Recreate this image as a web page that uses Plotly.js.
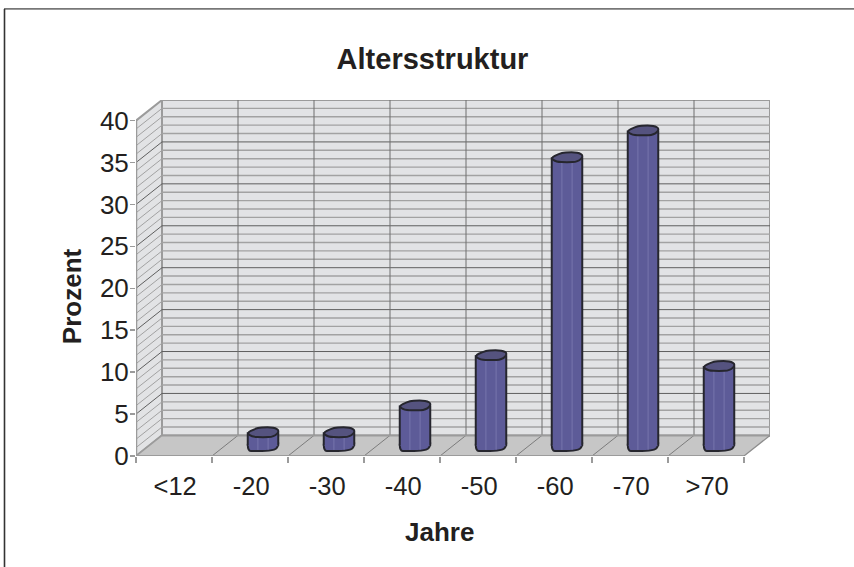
<!DOCTYPE html>
<html>
<head>
<meta charset="utf-8">
<script src="https://cdn.plot.ly/plotly-3.0.1.min.js"></script>
<style>html,body{margin:0;padding:0;background:#fff}#chart{width:854px;height:567px}</style>
</head>
<body>
<div id="chart"></div>
<script>
// Altersstruktur: share of each age band in percent
const categories = ['&lt;12', '-20', '-30', '-40', '-50', '-60', '-70', '>70'];
const percent = [0, 1.6, 1.6, 4.8, 10.8, 34.4, 37.6, 9.5];
const yTicks = [0, 5, 10, 15, 20, 25, 30, 35, 40];

// Pseudo-3D box: the back wall sits behind the front plane by this depth, in axis units
const unitX = 76, unitY = 8.375;              // pixels per category / per percent
const depthX = 26 / unitX, depthY = 20.6 / unitY;
const yMax = 40, nCat = categories.length;
const xLow = -0.5, xHigh = nCat - 0.5;
const barWidth = 30.5 / unitX;
const midX = depthX / 2, midY = depthY / 2;   // bars stand halfway into the box

const wallFill = '#e2e3e5', floorFill = '#c6c6c6';
const edge = '#9b9b9b', gridMinor = '#a2a2a2', gridMajor = '#5f5f5f';
const barFill = '#5d5b98', capFill = '#55537f', outline = '#26262e';

const line = (x0, y0, x1, y1, color, width, layer) => ({
  type: 'line', xref: 'x', yref: 'y', x0, y0, x1, y1, layer: layer || 'below',
  line: { color, width }
});
const poly = (pts, fill, lineColor, width, layer) => ({
  type: 'path', xref: 'x', yref: 'y', layer: layer || 'below', fillcolor: fill,
  line: { color: lineColor, width: width },
  path: 'M' + pts.map(p => p[0] + ',' + p[1]).join(' L') + ' Z'
});
// closed outline rounded off through the midpoints of its edges
const smooth = (pts, fill, lineColor, width, layer) => {
  const mid = (a, b) => [(a[0] + b[0]) / 2, (a[1] + b[1]) / 2];
  const n = pts.length;
  const start = mid(pts[n - 1], pts[0]);
  let d = 'M' + start[0] + ',' + start[1];
  pts.forEach((p, i) => {
    const m = mid(p, pts[(i + 1) % n]);
    d += ' Q' + p[0] + ',' + p[1] + ' ' + m[0] + ',' + m[1];
  });
  return { type: 'path', xref: 'x', yref: 'y', layer: layer || 'below', fillcolor: fill,
    line: { color: lineColor, width: width }, path: d + ' Z' };
};

const shapes = [];
// side wall, back wall, floor
shapes.push(poly([[xLow, 0], [xLow + depthX, depthY], [xLow + depthX, yMax + depthY], [xLow, yMax]], wallFill, edge, 2));
shapes.push(poly([[xLow + depthX, depthY], [xHigh + depthX, depthY], [xHigh + depthX, yMax + depthY], [xLow + depthX, yMax + depthY]], wallFill, edge, 2));
shapes.push(poly([[xLow, 0], [xHigh, 0], [xHigh + depthX, depthY], [xLow + depthX, depthY]], floorFill, floorFill, 0));

// one grid line per percent, running along the side wall and the back wall
for (let v = 1; v < yMax; v++) {
  const c = v % 5 === 0 ? gridMajor : gridMinor;
  const w = v % 5 === 0 ? 1 : 1.4;
  shapes.push(line(xLow, v, xLow + depthX, v + depthY, c, 1));
  shapes.push(line(xLow + depthX, v + depthY, xHigh + depthX, v + depthY, c, w));
}
// category dividers on the back wall and across the floor
for (let i = 1; i < nCat; i++) {
  shapes.push(line(xLow + i + depthX, depthY, xLow + i + depthX, yMax + depthY, '#6e6e6e', 1));
  shapes.push(line(xLow + i, 0, xLow + i + depthX, depthY, '#7c7c7c', 1));
}
// wall borders and the right floor edge
shapes.push(line(xLow + depthX, depthY, xHigh + depthX, depthY, edge, 2));
shapes.push(line(xLow, 0, xLow + depthX, depthY, edge, 1.5));
shapes.push(line(xHigh, 0, xHigh + depthX, depthY, '#8c8c8c', 1.2));
// front axis lines
shapes.push(line(xLow, 0, xHigh, 0, edge, 2));
shapes.push(line(xLow, 0, xLow, yMax, edge, 2.5));

// cylinder ends, drawn as slightly skewed ovals; the bottom one tucks up behind the body
const topOutline = [[-16.4, 0.6], [-8, -3.4], [-2, -5], [11, -5], [16.8, -1.4], [11, 4.6], [0, 5], [-11, 4.6]];
const bottomOutline = [[-15.2, -8], [-15.2, 5.4], [-9, 5.2], [7, 5.2], [15.2, 2.6], [15.2, -8]];
const place = (shape, cx, level) => shape.map(p => [cx + p[0] / unitX, level - p[1] / unitY]);

const barX = [], barBase = [], barHeight = [];
const sideX = [], sideY = [], shineX = [], shineY = [];
percent.forEach((v, i) => {
  if (v <= 0) return;
  const cx = i + midX, top = v + midY;
  barX.push(cx); barBase.push(midY); barHeight.push(v);
  for (const s of [-1, 1]) {
    sideX.push(cx + s * barWidth / 2, cx + s * barWidth / 2, null);
    sideY.push(midY, top, null);
    shineX.push(cx + s * barWidth / 6, cx + s * barWidth / 6, null);
    shineY.push(midY - 0.5, top, null);
  }
  shapes.push(smooth(place(bottomOutline, cx, midY), barFill, outline, 2));
  shapes.push(smooth(place(topOutline, cx, top), capFill, outline, 2, 'above'));
});

const traces = [
  { type: 'bar', x: barX, y: barHeight, base: barBase, width: barWidth,
    marker: { color: barFill, line: { width: 0 } }, hoverinfo: 'skip', showlegend: false },
  { type: 'scatter', mode: 'lines', x: shineX, y: shineY,
    line: { color: 'rgba(150,150,200,0.45)', width: 1 }, hoverinfo: 'skip', showlegend: false, connectgaps: false },
  { type: 'scatter', mode: 'lines', x: sideX, y: sideY,
    line: { color: outline, width: 2 }, hoverinfo: 'skip', showlegend: false, connectgaps: false }
];

const fontFace = '"Liberation Sans", Arial, sans-serif';
const inkColor = '#231f20';
const boundaries = Array.from({ length: nCat + 1 }, (_, i) => xLow + i);

const layout = {
  width: 854, height: 567,
  margin: { l: 136, r: 84, t: 100, b: 111.3, pad: 0 },
  paper_bgcolor: '#fff', plot_bgcolor: 'rgba(0,0,0,0)',
  showlegend: false, bargap: 0,
  font: { family: fontFace, color: inkColor },
  title: {
    text: '<b>Altersstruktur</b>', xref: 'container', yref: 'container',
    x: 432.5 / 854, y: 1 - 59 / 567, xanchor: 'center', yanchor: 'middle',
    font: { size: 29, family: fontFace, color: inkColor }
  },
  xaxis: {
    type: 'linear', range: [xLow, xHigh + depthX], autorange: false,
    tickmode: 'array', tickvals: categories.map((_, i) => i + 0.015), ticktext: categories,
    ticks: '', ticklabelstandoff: 12, tickfont: { size: 25.5 },
    showgrid: false, zeroline: false, showline: false,
    minor: { tickmode: 'array', tickvals: boundaries, ticks: 'outside', ticklen: 6, tickwidth: 1.5, tickcolor: edge, showgrid: false }
  },
  yaxis: {
    range: [0, yMax + depthY], autorange: false,
    tickmode: 'array', tickvals: yTicks, ticktext: yTicks.map(String),
    ticks: 'outside', ticklen: 5, tickwidth: 1.5, tickcolor: edge, tickfont: { size: 26 },
    ticklabelstandoff: -4,
    showgrid: false, zeroline: false, showline: false
  },
  annotations: [
    { text: '<b>Jahre</b>', xref: 'paper', yref: 'paper', showarrow: false,
      x: (439.5 - 136) / 634, y: (567 - 111.3 - 532) / 355.7, yanchor: 'middle', xanchor: 'center',
      font: { size: 26, family: fontFace, color: inkColor } },
    { text: '<b>Prozent</b>', xref: 'paper', yref: 'paper', showarrow: false, textangle: -90,
      x: (72 - 136) / 634, y: (455.7 - 296) / 355.7, yanchor: 'middle', xanchor: 'center',
      font: { size: 26, family: fontFace, color: inkColor } }
  ],
  // page frame along the top and left edges
  shapes: shapes.concat([
    { type: 'line', xref: 'paper', yref: 'paper', layer: 'above',
      x0: (4 - 136) / 634, x1: (854 - 136) / 634, y0: (455.7 - 9) / 355.7, y1: (455.7 - 9) / 355.7,
      line: { color: '#777', width: 1.6 } },
    { type: 'line', xref: 'paper', yref: 'paper', layer: 'above',
      x0: (4.5 - 136) / 634, x1: (4.5 - 136) / 634, y0: (455.7 - 9) / 355.7, y1: (455.7 - 567) / 355.7,
      line: { color: '#333', width: 1.6 } }
  ])
};

Plotly.newPlot('chart', traces, layout, { displayModeBar: false, staticPlot: true });
</script>
</body>
</html>
